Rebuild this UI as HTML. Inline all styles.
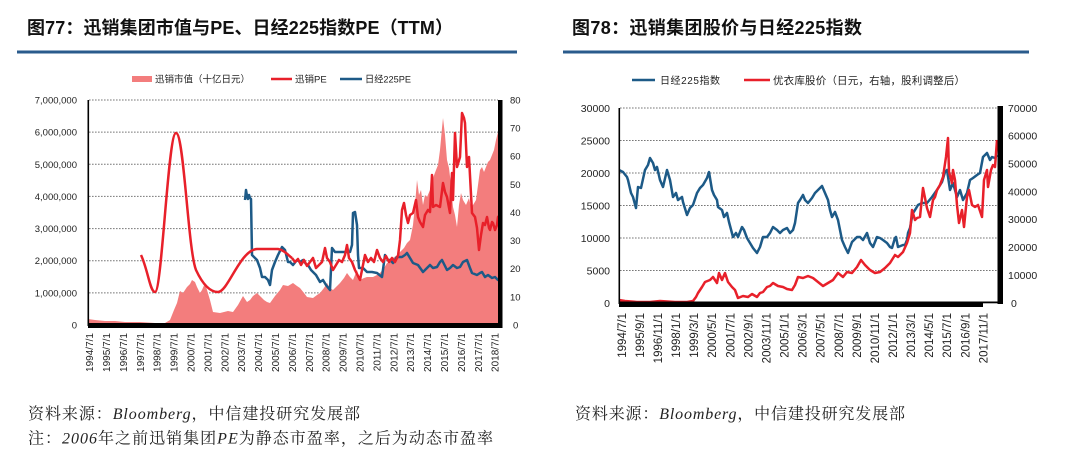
<!DOCTYPE html>
<html>
<head>
<meta charset="utf-8">
<style>
html,body{margin:0;padding:0;background:#fff;}
svg{display:block;}
.sans{font-family:"Liberation Sans","Noto Sans CJK SC",sans-serif;}
.serif{font-family:"Liberation Serif","Noto Serif CJK SC",serif;}
.grid{stroke:#777;stroke-width:1;stroke-dasharray:1.6 1.4;fill:none;}
</style>
</head>
<body>
<svg width="1080" height="465" viewBox="0 0 1080 465" xmlns="http://www.w3.org/2000/svg">
<rect x="0" y="0" width="1080" height="465" fill="#fff"/>

<!-- ================= LEFT CHART ================= -->
<text class="sans" x="27" y="34" font-size="18" font-weight="bold" fill="#111" textLength="426" lengthAdjust="spacing">图77：迅销集团市值与PE、日经225指数PE（TTM）</text>
<rect x="17" y="50.5" width="500" height="3" fill="#2a5b8c"/>

<!-- legend -->
<rect x="132" y="76" width="20" height="6" fill="#f37d7d"/>
<text class="sans" x="155" y="82.5" font-size="9.5" fill="#222" textLength="95" lengthAdjust="spacing">迅销市值（十亿日元）</text>
<line x1="271" y1="79" x2="292" y2="79" stroke="#e8202a" stroke-width="2.5"/>
<text class="sans" x="295" y="82.5" font-size="9.5" fill="#222">迅销PE</text>
<line x1="340" y1="79" x2="362" y2="79" stroke="#1d5a87" stroke-width="2.5"/>
<text class="sans" x="365" y="82.5" font-size="9.5" fill="#222" textLength="46" lengthAdjust="spacingAndGlyphs">日经225PE</text>

<!-- grid -->
<g class="grid">
<line x1="89" y1="100" x2="498" y2="100"/>
<line x1="89" y1="132.1" x2="498" y2="132.1"/>
<line x1="89" y1="164.3" x2="498" y2="164.3"/>
<line x1="89" y1="196.4" x2="498" y2="196.4"/>
<line x1="89" y1="228.6" x2="498" y2="228.6"/>
<line x1="89" y1="260.7" x2="498" y2="260.7"/>
<line x1="89" y1="292.9" x2="498" y2="292.9"/>
</g>

<!-- market cap area -->
<polygon fill="#f37d7d" points="88,325 88,319 95,320 105,321 115,321 125,322 140,322 155,323 165,323 170,320 174,310 177,303 180,291 183,293 187,287 190,284 192,280 195,282 197,287 200,293 202,290 205,283 207,290 210,300 213,312 220,313 228,311 233,312 238,305 243,296 247,302 250,300 253,296 257,293 260,296 264,300 267,302 270,303 275,296 280,290 283,285 288,286 293,283 297,286 300,288 304,293 307,297 313,298 317,295 320,293 324,288 327,283 330,288 333,290 337,286 340,283 344,278 347,273 350,277 353,280 357,270 360,280 364,278 367,277 373,277 377,275 380,273 384,268 387,263 390,262 393,258 397,255 400,252 404,248 407,243 410,240 413,225 415,205 417,180 419,195 421,190 423,205 425,195 427,197 430,190 433,178 436,170 438,165 440,150 442,128 443,118 445,135 447,160 449,168 451,185 453,207 455,215 457,227 459,205 461,193 463,200 466,205 469,198 471,207 473,205 476,200 478,185 480,170 482,167 484,172 486,167 488,162 490,160 492,155 494,150 496,140 498,132 500,125 500,325"/>

<!-- Nikkei PE (blue) -->
<polyline fill="none" stroke="#1d5a87" stroke-width="2.5" stroke-linejoin="round" points="245,200 246,190 247,196 248,199 249,195 250,198 251,199 252,255 255,258 257,260 260,268 262,277 265,277 268,280 270,285 272,270 275,262 278,255 282,247 285,250 288,262 290,262 293,265 297,260 300,262 303,260 306,264 308,265 311,270 313,272 316,275 320,282 323,280 326,285 330,290 332,248 335,252 340,252 345,252 350,252 352,245 353,213 355,212 357,225 358,255 359,268 363,268 367,272 372,272 377,273 382,277 385,255 388,260 390,260 393,263 397,257 402,257 405,255 407,253 410,258 413,263 418,265 423,272 427,268 430,265 433,268 437,267 440,262 442,260 445,266 447,270 450,268 453,265 457,268 460,267 463,262 467,260 470,268 472,273 477,275 480,273 482,272 485,277 488,275 492,278 495,277 498,280 500,280"/>

<!-- Uniqlo PE (red) -->
<path fill="none" stroke="#e8202a" stroke-width="2.5" stroke-linejoin="round" d="M141,255 C148,270 150,292 155,292 C162,292 168,133 176,133 C184,133 188,250 196,270 C203,285 210,292 218,292 C228,292 240,250 257,249 L278,249 C284,250 288,255 292,258"/>
<polyline fill="none" stroke="#e8202a" stroke-width="2.5" stroke-linejoin="round" points="292,258 295,262 298,259 301,265 304,260 307,266 310,262 313,258 316,268 319,265 322,262 325,248 327,258 330,262 333,270 336,265 339,260 342,262 345,255 347,245 349,258 352,262 355,270 358,276 360,280 362,270 365,255 368,262 371,258 374,262 377,250 380,258 383,262 386,256 389,262 392,258 395,262 398,256 400,240 402,210 404,203 406,215 408,223 410,215 413,213 416,200 418,217 420,222 423,227 425,215 428,210 430,212 432,175 433,207 436,205 440,207 443,183 445,192 447,197 450,213 452,173 453,200 455,133 457,167 460,157 462,113 464,118 465,123 467,167 469,157 472,213 475,217 477,228 479,250 481,235 483,223 485,225 487,217 489,228 490,230 492,222 493,223 495,230 497,225 498,217 500,215"/>

<!-- axes -->
<rect x="87.5" y="100" width="1.6" height="226" fill="#000"/>
<rect x="88" y="323" width="414" height="5" fill="#000"/>
<rect x="498" y="100" width="4.5" height="228" fill="#000"/>

<!-- left y labels -->
<g class="sans" font-size="9.5" fill="#222" text-anchor="end">
<text x="77" y="103.5">7,000,000</text>
<text x="77" y="135.6">6,000,000</text>
<text x="77" y="167.8">5,000,000</text>
<text x="77" y="199.9">4,000,000</text>
<text x="77" y="232.1">3,000,000</text>
<text x="77" y="264.2">2,000,000</text>
<text x="77" y="296.4">1,000,000</text>
<text x="77" y="328.5">0</text>
</g>
<!-- right y labels -->
<g class="sans" font-size="9.5" fill="#222">
<text x="510" y="103.5">80</text>
<text x="510" y="131.6">70</text>
<text x="510" y="159.7">60</text>
<text x="510" y="187.9">50</text>
<text x="510" y="216">40</text>
<text x="510" y="244.1">30</text>
<text x="510" y="272.2">20</text>
<text x="510" y="300.4">10</text>
<text x="513" y="328.5">0</text>
</g>

<!-- left x labels -->
<g class="sans" font-size="10" fill="#222" text-anchor="end">
<text transform="translate(93.1,333) rotate(-90)">1994/7/1</text>
<text transform="translate(110,333) rotate(-90)">1995/7/1</text>
<text transform="translate(126.9,333) rotate(-90)">1996/7/1</text>
<text transform="translate(143.8,333) rotate(-90)">1997/7/1</text>
<text transform="translate(160.7,333) rotate(-90)">1998/7/1</text>
<text transform="translate(177.6,333) rotate(-90)">1999/7/1</text>
<text transform="translate(194.5,333) rotate(-90)">2000/7/1</text>
<text transform="translate(211.4,333) rotate(-90)">2001/7/1</text>
<text transform="translate(228.3,333) rotate(-90)">2002/7/1</text>
<text transform="translate(245.2,333) rotate(-90)">2003/7/1</text>
<text transform="translate(262.1,333) rotate(-90)">2004/7/1</text>
<text transform="translate(279,333) rotate(-90)">2005/7/1</text>
<text transform="translate(295.9,333) rotate(-90)">2006/7/1</text>
<text transform="translate(312.8,333) rotate(-90)">2007/7/1</text>
<text transform="translate(329.7,333) rotate(-90)">2008/7/1</text>
<text transform="translate(346.6,333) rotate(-90)">2009/7/1</text>
<text transform="translate(363.5,333) rotate(-90)">2010/7/1</text>
<text transform="translate(380.4,333) rotate(-90)">2011/7/1</text>
<text transform="translate(397.3,333) rotate(-90)">2012/7/1</text>
<text transform="translate(414.2,333) rotate(-90)">2013/7/1</text>
<text transform="translate(431.1,333) rotate(-90)">2014/7/1</text>
<text transform="translate(448,333) rotate(-90)">2015/7/1</text>
<text transform="translate(464.9,333) rotate(-90)">2016/7/1</text>
<text transform="translate(481.8,333) rotate(-90)">2017/7/1</text>
<text transform="translate(498.7,333) rotate(-90)">2018/7/1</text>
</g>

<!-- left source -->
<text class="serif" x="28" y="419" font-size="16" fill="#222" textLength="332" lengthAdjust="spacing">资料来源：<tspan font-style="italic">Bloomberg</tspan>，中信建投研究发展部</text>
<text class="serif" x="28" y="443.5" font-size="16" fill="#222" textLength="465" lengthAdjust="spacing">注：<tspan font-style="italic">2006</tspan>年之前迅销集团<tspan font-style="italic">PE</tspan>为静态市盈率，之后为动态市盈率</text>

<!-- ================= RIGHT CHART ================= -->
<text class="sans" x="572" y="34" font-size="18" font-weight="bold" fill="#111" textLength="290" lengthAdjust="spacing">图78：迅销集团股价与日经225指数</text>
<rect x="563" y="50.5" width="466" height="3" fill="#2a5b8c"/>

<!-- legend -->
<line x1="632" y1="80" x2="655" y2="80" stroke="#1d5a87" stroke-width="2.5"/>
<text class="sans" x="660" y="84" font-size="10" fill="#222" textLength="60" lengthAdjust="spacing">日经225指数</text>
<line x1="744" y1="80" x2="770" y2="80" stroke="#e8202a" stroke-width="2.5"/>
<text class="sans" x="773" y="84" font-size="10.5" fill="#222" textLength="192" lengthAdjust="spacing">优衣库股价（日元，右轴，股利调整后）</text>

<!-- grid -->
<g class="grid">
<line x1="620" y1="108" x2="998" y2="108"/>
<line x1="620" y1="140.5" x2="998" y2="140.5"/>
<line x1="620" y1="173" x2="998" y2="173"/>
<line x1="620" y1="205.5" x2="998" y2="205.5"/>
<line x1="620" y1="238" x2="998" y2="238"/>
<line x1="620" y1="270.5" x2="998" y2="270.5"/>
</g>

<!-- Nikkei (blue) -->
<polyline fill="none" stroke="#1d5a87" stroke-width="2.5" stroke-linejoin="round" points="619,170 623,172 627,177 628,180 631,193 633,197 636,208 638,187 641,188 645,170 648,165 650,158 653,163 655,170 657,167 660,180 663,187 667,170 670,180 673,197 676,193 678,200 682,197 683,202 687,215 690,208 693,205 697,193 700,188 703,185 707,178 709,172 712,190 714,195 717,200 718,207 722,210 724,217 727,213 729,222 733,237 736,233 738,237 742,227 744,230 747,238 750,243 753,248 757,253 760,247 763,237 767,237 770,233 773,227 777,230 780,233 783,230 787,228 790,233 793,230 795,223 798,203 800,200 803,195 805,200 808,203 812,198 815,193 818,190 822,186 825,193 828,200 830,210 832,217 835,212 838,220 842,240 845,247 848,253 852,242 857,237 860,237 863,240 867,233 870,243 873,247 877,237 880,238 883,240 887,243 890,247 892,248 895,238 896,237 898,247 903,245 905,245 907,240 908,233 910,228 912,217 913,213 915,210 918,205 922,203 927,203 932,197 937,190 942,182 945,172 947,170 950,190 953,183 957,197 960,190 963,200 967,193 970,180 973,178 977,175 980,173 983,157 987,153 990,160 992,157 995,158 997,155"/>

<!-- Uniqlo (red) -->
<polyline fill="none" stroke="#e8202a" stroke-width="2.5" stroke-linejoin="round" points="619,300 625,301 637,302 650,302 660,301 675,302 687,302 693,301 696,297 698,293 702,287 705,282 710,280 713,277 717,283 719,273 722,280 725,273 728,282 732,287 735,290 738,298 743,296 748,297 752,294 757,297 760,293 763,292 767,287 770,286 773,283 778,286 783,287 787,289 792,290 795,285 798,277 803,278 808,276 813,278 818,282 823,286 828,283 833,280 838,273 843,277 847,272 852,273 857,267 861,260 865,265 870,270 875,273 880,272 885,268 890,263 895,255 898,257 903,252 907,243 910,233 912,210 915,220 917,218 920,217 923,188 927,208 930,217 933,200 935,197 937,190 940,185 943,177 946,157 948,138 949,172 952,183 953,170 955,180 957,205 959,223 962,210 964,227 967,197 969,190 972,205 975,207 978,205 982,217 984,180 987,170 988,187 991,170 993,165 995,167 997,140"/>

<!-- axes -->
<rect x="618.5" y="108" width="1.6" height="196" fill="#000"/>
<rect x="619" y="301.5" width="364" height="5.5" fill="#000"/>
<rect x="983" y="301.5" width="16" height="1.8" fill="#000"/>
<rect x="997.5" y="106" width="5.5" height="198" fill="#000"/>

<!-- left y labels -->
<g class="sans" font-size="10.5" fill="#222" text-anchor="end">
<text x="610" y="111.8">30000</text>
<text x="610" y="144.3">25000</text>
<text x="610" y="176.8">20000</text>
<text x="610" y="209.3">15000</text>
<text x="610" y="241.8">10000</text>
<text x="610" y="274.3">5000</text>
<text x="610" y="306.8">0</text>
</g>
<!-- right y labels -->
<g class="sans" font-size="10.5" fill="#222">
<text x="1008" y="111.8">70000</text>
<text x="1008" y="139.7">60000</text>
<text x="1008" y="167.5">50000</text>
<text x="1008" y="195.4">40000</text>
<text x="1008" y="223.2">30000</text>
<text x="1008" y="251.1">20000</text>
<text x="1008" y="279">10000</text>
<text x="1011" y="306.8">0</text>
</g>

<!-- right x labels -->
<g class="sans" font-size="11.5" fill="#222" text-anchor="end">
<text transform="translate(625.8,313) rotate(-90)">1994/7/1</text>
<text transform="translate(643.9,313) rotate(-90)">1995/9/1</text>
<text transform="translate(662,313) rotate(-90)">1996/11/1</text>
<text transform="translate(680,313) rotate(-90)">1998/1/1</text>
<text transform="translate(698.1,313) rotate(-90)">1999/3/1</text>
<text transform="translate(716.2,313) rotate(-90)">2000/5/1</text>
<text transform="translate(734.3,313) rotate(-90)">2001/7/1</text>
<text transform="translate(752.4,313) rotate(-90)">2002/9/1</text>
<text transform="translate(770.4,313) rotate(-90)">2003/11/1</text>
<text transform="translate(788.5,313) rotate(-90)">2005/1/1</text>
<text transform="translate(806.6,313) rotate(-90)">2006/3/1</text>
<text transform="translate(824.7,313) rotate(-90)">2007/5/1</text>
<text transform="translate(842.8,313) rotate(-90)">2008/7/1</text>
<text transform="translate(860.8,313) rotate(-90)">2009/9/1</text>
<text transform="translate(878.9,313) rotate(-90)">2010/11/1</text>
<text transform="translate(897,313) rotate(-90)">2012/1/1</text>
<text transform="translate(915.1,313) rotate(-90)">2013/3/1</text>
<text transform="translate(933.2,313) rotate(-90)">2014/5/1</text>
<text transform="translate(951.2,313) rotate(-90)">2015/7/1</text>
<text transform="translate(969.3,313) rotate(-90)">2016/9/1</text>
<text transform="translate(987.4,313) rotate(-90)">2017/11/1</text>
</g>

<!-- right source -->
<text class="serif" x="575" y="419" font-size="16" fill="#222" textLength="330" lengthAdjust="spacing">资料来源：<tspan font-style="italic">Bloomberg</tspan>，中信建投研究发展部</text>
</svg>
</body>
</html>
